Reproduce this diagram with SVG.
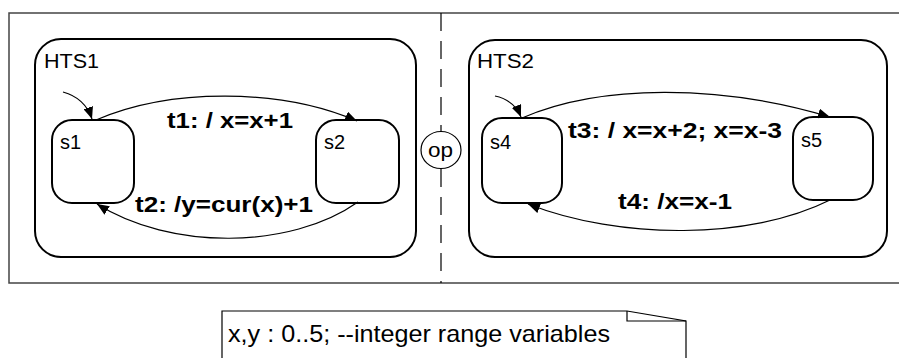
<svg xmlns="http://www.w3.org/2000/svg" width="899" height="358" viewBox="0 0 899 358">
  <style>
    .frame { fill: none; stroke: #444; stroke-width: 1.5; }
    .region { fill: none; stroke: #000; stroke-width: 2; }
    .state { fill: #fff; stroke: #000; stroke-width: 2; }
    .edge { fill: none; stroke: #000; stroke-width: 1.2; }
    .lbl { font-family: "Liberation Sans", Arial, sans-serif; font-size: 20px; fill: #000; }
    .tr { font-family: "Liberation Sans", Arial, sans-serif; font-size: 22px; font-weight: bold; fill: #000; }
  </style>
  <defs>
    <marker id="arrow" viewBox="0 0 12 10" refX="12" refY="5" markerWidth="12" markerHeight="10" markerUnits="userSpaceOnUse" orient="auto">
      <path d="M0,0 L12,5 L0,10 Z" fill="#000"/>
    </marker>
  </defs>

  <!-- outer frame, open on the right -->
  <path class="frame" d="M899,13 H9 V283 H899"/>

  <!-- parallel composition separator -->
  <g id="separator">
    <line x1="441" y1="13" x2="441" y2="131" stroke="#000" stroke-width="1.2" stroke-dasharray="18 10"/>
    <line x1="441" y1="169" x2="441" y2="283" stroke="#000" stroke-width="1.2" stroke-dasharray="18 10"/>
    <ellipse cx="441" cy="150" rx="20" ry="18.5" fill="#fff" stroke="#000" stroke-width="1.2"/>
    <text class="lbl" x="428" y="157" textLength="25" lengthAdjust="spacingAndGlyphs">op</text>
  </g>

  <g id="HTS1">
    <rect class="region" x="35" y="39" width="381" height="218" rx="26"/>
    <text class="lbl" x="44" y="68" textLength="55" lengthAdjust="spacingAndGlyphs">HTS1</text>
  </g>
  <g id="HTS2">
    <rect class="region" x="469" y="40" width="418" height="217" rx="26"/>
    <text class="lbl" x="477" y="68" textLength="57" lengthAdjust="spacingAndGlyphs">HTS2</text>
  </g>

  <g id="s1">
    <rect class="state" x="52" y="120" width="82" height="83" rx="20"/>
    <text class="lbl" x="60" y="149">s1</text>
  </g>
  <g id="s2">
    <rect class="state" x="316" y="120" width="83" height="83" rx="20"/>
    <text class="lbl" x="324" y="149">s2</text>
  </g>
  <g id="s4">
    <rect class="state" x="482" y="118" width="80" height="85" rx="20"/>
    <text class="lbl" x="490" y="149">s4</text>
  </g>
  <g id="s5">
    <rect class="state" x="793" y="117" width="80" height="83" rx="20"/>
    <text class="lbl" x="801" y="147">s5</text>
  </g>

  <g id="connectors">
    <path class="edge" marker-end="url(#arrow)" d="M63,92 Q85,98 92,119"/>
    <path class="edge" marker-end="url(#arrow)" d="M96,120 C170,88 280,88 357,121"/>
    <path class="edge" marker-end="url(#arrow)" d="M358,202 C290,250 170,250 97,204"/>
    <path class="edge" marker-end="url(#arrow)" d="M495,96 Q514,100 521,117"/>
    <path class="edge" marker-end="url(#arrow)" d="M522,118 C600,84 720,84 830,117"/>
    <path class="edge" marker-end="url(#arrow)" d="M830,200 C750,240 620,240 528,204"/>
  </g>

  <g id="labels">
    <text class="tr" x="167" y="128" textLength="126" lengthAdjust="spacingAndGlyphs">t1: / x=x+1</text>
    <text class="tr" x="135" y="212" textLength="178" lengthAdjust="spacingAndGlyphs">t2: /y=cur(x)+1</text>
    <text class="tr" x="568" y="138" textLength="214" lengthAdjust="spacingAndGlyphs">t3: / x=x+2; x=x-3</text>
    <text class="tr" x="618" y="209" textLength="114" lengthAdjust="spacingAndGlyphs">t4: /x=x-1</text>
  </g>

  <g id="note">
    <path d="M222,358 V311 H627 L686,321 V358" fill="#fff" stroke="#000" stroke-width="1.2"/>
    <path d="M627,311 V321 H686" fill="none" stroke="#000" stroke-width="1.2"/>
    <text x="228" y="342" font-family="Liberation Sans, Arial, sans-serif" font-size="24" textLength="382" lengthAdjust="spacingAndGlyphs">x,y : 0..5; --integer range variables</text>
  </g>
</svg>
